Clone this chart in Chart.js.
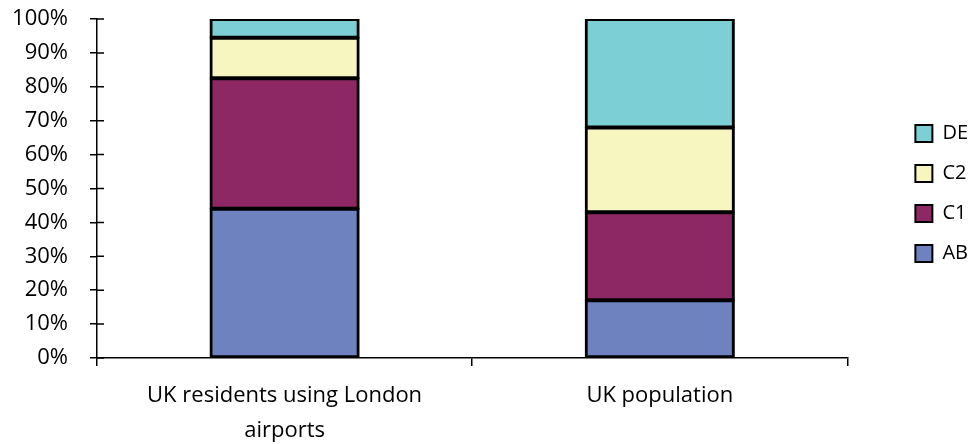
<!DOCTYPE html>
<html>
<head>
<meta charset="utf-8">
<script src="https://cdn.jsdelivr.net/npm/chart.js@4/dist/chart.umd.min.js"></script>
<style>
  html, body { margin: 0; padding: 0; background: #ffffff; }
  #wrap { width: 971px; height: 444px; }
</style>
</head>
<body>
<div id="wrap"><canvas id="c" width="971" height="444"></canvas></div>
<script>
// Social grade mix, percentage of each group
const categories = [["UK residents using London", "airports"], "UK population"];
const seriesNames = ["AB", "C1", "C2", "DE"];
const valuesAB = [44, 17];
const valuesC1 = [38.5, 26];
const valuesC2 = [12, 25];
const valuesDE = [5.5, 32];
const yTickValues = [0, 10, 20, 30, 40, 50, 60, 70, 80, 90, 100];

const colours = ["#6d82bf", "#8e2864", "#f7f5c0", "#7ccfd4"];
const seriesValues = [valuesAB, valuesC1, valuesC2, valuesDE];

const FONT = "'Open Sans', 'DejaVu Sans', sans-serif";

// Tick marks that cross into the plot area, like classic spreadsheet axes
const innerTicks = {
  id: 'innerTicks',
  afterDraw(chart) {
    const ctx = chart.ctx;
    const x = chart.scales.x, y = chart.scales.y;
    ctx.save();
    ctx.strokeStyle = '#000';
    ctx.lineWidth = 1.5;
    ctx.beginPath();
    yTickValues.forEach(v => {
      const py = y.getPixelForValue(v);
      ctx.moveTo(x.left, py);
      ctx.lineTo(x.left + 7, py);
    });
    ctx.stroke();
    ctx.restore();
  }
};

// Push the legend block a little right and down from its default slot
const legendOffset = {
  id: 'legendOffset',
  afterLayout(chart) {
    const lg = chart.legend;
    if (!lg) return;
    const dx = 48, dy = 5;
    lg.left += dx; lg.right += dx;
    lg.top += dy; lg.bottom += dy;
  }
};

new Chart(document.getElementById('c'), {
  type: 'bar',
  data: {
    labels: categories,
    datasets: seriesNames.map((name, i) => ({
      label: name,
      data: seriesValues[i],
      backgroundColor: colours[i],
      borderColor: '#000',
      borderWidth: 3,
      borderSkipped: false,
      inflateAmount: 1,
      barPercentage: 0.395,
      categoryPercentage: 1.0
    }))
  },
  options: {
    responsive: false,
    animation: false,
    layout: { padding: { top: 19, right: 41, bottom: 0, left: 0 } },
    plugins: {
      tooltip: { enabled: false },
      legend: {
        position: 'right',
        fullSize: false,
        reverse: true,
        labels: {
          color: '#000',
          font: { family: FONT, size: 20 },
          boxWidth: 17,
          boxHeight: 17,
          padding: 20,
          generateLabels(chart) {
            return chart.data.datasets.map((ds, i) => ({
              text: ds.label,
              fillStyle: ds.backgroundColor,
              strokeStyle: '#000',
              lineWidth: 2,
              datasetIndex: i
            }));
          }
        }
      }
    },
    scales: {
      x: {
        stacked: true,
        afterFit(scale) { scale.height = 86; },
        grid: { display: true, drawOnChartArea: false, offset: true, color: '#000', lineWidth: 1.5, tickLength: 8 },
        border: { display: true, color: '#000', width: 1.5 },
        ticks: { color: '#000', font: { family: FONT, size: 22, lineHeight: 1.6 }, padding: 12, maxRotation: 0 }
      },
      y: {
        stacked: true,
        min: 0,
        max: 100,
        afterBuildTicks(scale) { scale.ticks = yTickValues.map(v => ({ value: v })); },
        afterFit(scale) {
          scale.width = 97;
          scale.paddingTop = 0;
          scale.paddingBottom = 0;
        },
        grid: { display: true, drawOnChartArea: false, color: '#000', lineWidth: 1.5, tickLength: 7 },
        border: { display: true, color: '#000', width: 1.5 },
        ticks: { color: '#000', font: { family: FONT, size: 22 }, padding: 22, callback: v => v + '%' }
      }
    }
  },
  plugins: [innerTicks, legendOffset]
});
</script>
</body>
</html>
